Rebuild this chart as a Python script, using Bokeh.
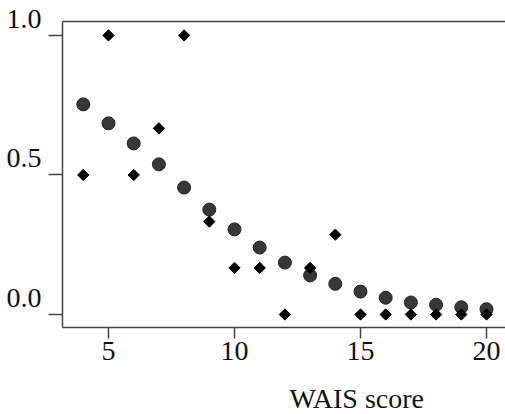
import math
from bokeh.plotting import figure
from bokeh.models import LinearAxis, FixedTicker, Title, CustomJSTickFormatter
from bokeh.embed import file_html
from bokeh.resources import INLINE

wais = [4, 5, 6, 7, 8, 9, 10, 11, 12, 13, 14, 15, 16, 17, 18, 19, 20]
fitted = [0.753, 0.685, 0.613, 0.538, 0.455, 0.376, 0.305, 0.240, 0.186, 0.140,
          0.110, 0.082, 0.060, 0.043, 0.035, 0.026, 0.019]
observed = [0.5, 1.0, 0.5, 0.667, 1.0, 0.333, 0.167, 0.167, 0.0, 0.167,
            0.286, 0.0, 0.0, 0.0, 0.0, 0.0, 0.0]
x_ticks = [5, 10, 15, 20]
y_ticks = [0.0, 0.5, 1.0]
x_title = "WAIS score"

FONT = "Liberation Serif"
AX = "#444444"

p = figure(width=505, height=414, x_range=(3.175, 20.754), y_range=(-0.0466, 1.050),
           output_backend="svg", toolbar_location=None,
           min_border_left=62, min_border_right=0, min_border_top=21, min_border_bottom=87)
p.outline_line_color = None
p.grid.visible = False
p.background_fill_color = "white"
p.border_fill_color = "white"

p.xaxis.ticker = FixedTicker(ticks=x_ticks)
p.yaxis.ticker = FixedTicker(ticks=y_ticks)
p.yaxis.formatter = CustomJSTickFormatter(code="return tick.toFixed(1) + '\\n ';")

for ax in (p.xaxis[0], p.yaxis[0]):
    ax.axis_line_color = AX
    ax.axis_line_width = 1.5
    ax.major_tick_line_color = AX
    ax.major_tick_line_width = 1.5
    ax.minor_tick_line_color = None
    ax.major_tick_in = 0
    ax.major_label_text_font = FONT
    ax.major_label_text_font_size = "28px"
    ax.major_label_text_color = "#111111"

p.xaxis.major_tick_out = 11
p.xaxis.major_label_standoff = 3
p.yaxis.major_tick_out = 14
p.yaxis.major_label_standoff = 7
p.yaxis.major_label_text_line_height = 1.1

top = LinearAxis(ticker=FixedTicker(ticks=[]), axis_line_color=AX, axis_line_width=1.5,
                 major_tick_line_color=None, minor_tick_line_color=None)
p.add_layout(top, "above")

p.scatter(wais, fitted, marker="circle", size=13, fill_color="#383838", line_color="#222222")
p.scatter(wais, observed, marker="square", size=8, angle=math.pi / 4,
          fill_color="black", line_color="black")

t = Title(text="\n" + x_title, align="left", offset=227, text_font=FONT, text_font_size="28px",
          text_font_style="normal", text_color="#111111", standoff=0,
          vertical_align="bottom", text_line_height=0.62)
p.add_layout(t, "below")

open("out.html", "w").write(file_html(p, INLINE))
